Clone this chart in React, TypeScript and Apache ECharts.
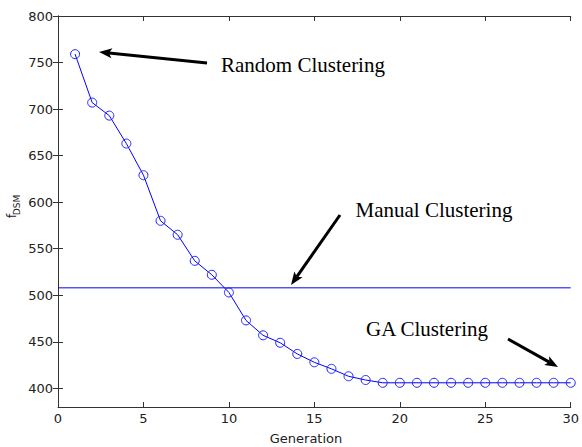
import React, { useEffect, useRef } from "react";
import * as echarts from "echarts";

const generations = [1, 2, 3, 4, 5, 6, 7, 8, 9, 10, 11, 12, 13, 14, 15, 16, 17, 18, 19, 20, 21, 22, 23, 24, 25, 26, 27, 28, 29, 30];
const fDSM = [759, 707, 693, 663, 629, 580, 565, 537, 522, 503, 473, 457, 449, 437, 428, 421, 413, 409, 406, 406, 406, 406, 406, 406, 406, 406, 406, 406, 406, 406];
const manualClustering = 508;
const xRange = [0, 30];
const yRange = [380, 800];
const yTickValues = [400, 450, 500, 550, 600, 650, 700, 750, 800];
const xInterval = 5;

const annotations = [
  { text: "Random Clustering", x: 303, y: 65 },
  { text: "Manual Clustering", x: 434, y: 210 },
  { text: "GA Clustering", x: 427, y: 329 },
];
const arrows = [
  { from: [207, 63], to: [99, 52] },
  { from: [340, 215], to: [291, 285] },
  { from: [508, 339], to: [558, 367] },
];

function arrowShapes(from: number[], to: number[]) {
  const dx = to[0] - from[0];
  const dy = to[1] - from[1];
  const len = Math.sqrt(dx * dx + dy * dy);
  const ux = dx / len, uy = dy / len;
  const px = -uy, py = ux;
  const headLen = 13, headW = 10, notch = 3;
  const bx = to[0] - ux * headLen, by = to[1] - uy * headLen;
  const nx = to[0] - ux * (headLen - notch), ny = to[1] - uy * (headLen - notch);
  return [
    {
      type: "line",
      shape: { x1: from[0], y1: from[1], x2: nx, y2: ny },
      style: { stroke: "#000", lineWidth: 3 },
      z: 100,
    },
    {
      type: "polygon",
      shape: {
        points: [
          [to[0], to[1]],
          [bx + px * headW / 2, by + py * headW / 2],
          [nx, ny],
          [bx - px * headW / 2, by - py * headW / 2],
        ],
      },
      style: { fill: "#000" },
      z: 100,
    },
  ];
}

export default function App() {
  const ref = useRef<HTMLDivElement>(null);
  useEffect(() => {
    if (!ref.current) return;
    const chart = echarts.init(ref.current, null, { renderer: "svg" });
    const axisLine = { show: true, lineStyle: { color: "#333", width: 1 } };
    const tickStyle = { inside: true, length: 5, lineStyle: { color: "#333", width: 1 } };
    const labelFont = { fontFamily: "DejaVu Sans", fontSize: 13, color: "#222" };
    const graphics: any[] = [];
    annotations.forEach((a) => {
      graphics.push({
        type: "text",
        x: a.x,
        y: a.y,
        z: 100,
        style: {
          text: a.text,
          fontFamily: "Liberation Serif",
          fontSize: 21,
          fill: "#000",
          align: "center",
          verticalAlign: "middle",
        },
      });
    });
    arrows.forEach((ar) => graphics.push(...arrowShapes(ar.from, ar.to)));
    graphics.push({
      type: "text",
      x: 11,
      y: 216,
      rotation: Math.PI / 2,
      style: { text: "f", fontFamily: "DejaVu Sans", fontSize: 13, fill: "#222", align: "center", verticalAlign: "middle" },
    });
    graphics.push({
      type: "text",
      x: 17,
      y: 205,
      rotation: Math.PI / 2,
      style: { text: "DSM", fontFamily: "DejaVu Sans", fontSize: 9, fill: "#222", align: "center", verticalAlign: "middle" },
    });
    graphics.push({
      type: "text",
      x: 306,
      y: 438,
      style: { text: "Generation", fontFamily: "DejaVu Sans", fontSize: 13, fill: "#222", align: "center", verticalAlign: "middle" },
    });

    chart.setOption({
      animation: false,
      backgroundColor: "#fff",
      grid: { left: 58, right: 6, top: 16, bottom: 40 },
      xAxis: [
        {
          type: "value",
          min: xRange[0],
          max: xRange[1],
          interval: xInterval,
          axisLine,
          axisTick: tickStyle,
          splitLine: { show: false },
          axisLabel: { ...labelFont, margin: 5 },
        },
        {
          type: "value",
          position: "top",
          min: xRange[0],
          max: xRange[1],
          interval: xInterval,
          axisLine,
          axisTick: tickStyle,
          splitLine: { show: false },
          axisLabel: { show: false },
        },
      ],
      yAxis: [
        {
          type: "value",
          min: yRange[0],
          max: yRange[1],
          axisLine,
          axisTick: { ...tickStyle, customValues: yTickValues },
          splitLine: { show: false },
          axisLabel: { ...labelFont, margin: 5, customValues: yTickValues },
        },
        {
          type: "value",
          position: "right",
          min: yRange[0],
          max: yRange[1],
          axisLine,
          axisTick: { ...tickStyle, customValues: yTickValues },
          splitLine: { show: false },
          axisLabel: { show: false, customValues: yTickValues },
        },
      ],
      series: [
        {
          type: "line",
          data: generations.map((g, i) => [g, fDSM[i]]),
          symbol: "circle",
          symbolSize: 9,
          lineStyle: { color: "#0000ff", width: 1 },
          itemStyle: { color: "rgba(255,255,255,0)", borderColor: "#2222ff", borderWidth: 1 },
          z: 5,
        },
        {
          type: "line",
          data: [[xRange[0], manualClustering], [xRange[1], manualClustering]],
          symbol: "none",
          lineStyle: { color: "#0000ff", width: 1 },
          z: 4,
        },
      ],
      graphic: graphics,
    });
    return () => chart.dispose();
  }, []);
  return (
    <div
      ref={ref}
      style={{ position: "fixed", left: 0, top: 0, width: 582, height: 447, background: "#fff" }}
    />
  );
}
